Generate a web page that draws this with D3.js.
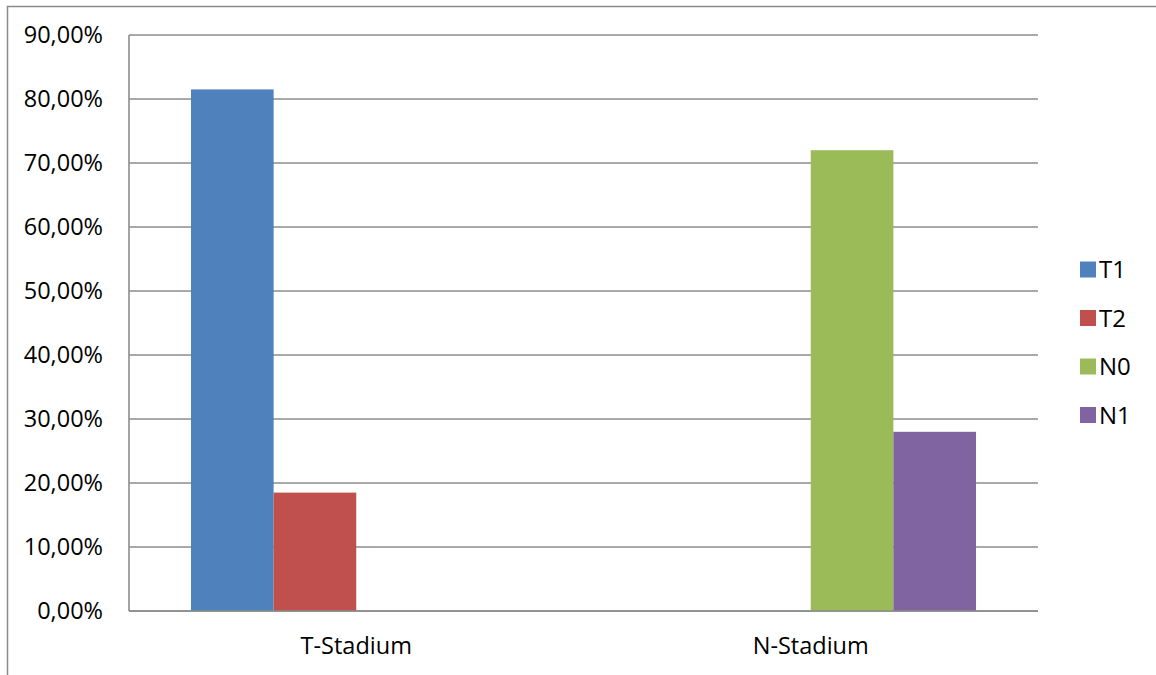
<!DOCTYPE html>
<html>
<head>
<meta charset="utf-8">
<script src="https://cdn.jsdelivr.net/npm/d3@7"></script>
<style>
  html, body { margin: 0; padding: 0; background: #fff; }
  svg text { font-family: "Open Sans", "Noto Sans", sans-serif; fill: #000; }
</style>
</head>
<body>
<svg id="chart" width="1156" height="675"></svg>
<script>
// Share of patients per stage group
const categories = ["T-Stadium", "N-Stadium"];
const seriesNames = ["T1", "T2", "N0", "N1"];
const seriesT1 = [81.5, null];
const seriesT2 = [18.5, null];
const seriesN0 = [null, 72.0];
const seriesN1 = [null, 28.0];
const yTicks = [0, 10, 20, 30, 40, 50, 60, 70, 80, 90];
const colors = ["#4F81BD", "#C0504D", "#9BBB59", "#8064A2"];

const seriesValues = [seriesT1, seriesT2, seriesN0, seriesN1];
const rows = categories.map((c, i) => ({
  category: c,
  values: seriesNames.map((s, j) => ({ series: s, value: seriesValues[j][i], color: colors[j] }))
}));

const svg = d3.select("#chart");
const plot = { left: 129, right: 1038, top: 35, bottom: 611 };
const labelSize = 23.5;

// Outer chart frame (top and left edges)
svg.append("path")
  .attr("d", `M7.5,${675} V6.5 H1156`)
  .attr("fill", "none")
  .attr("stroke", "#8a8a8a")
  .attr("stroke-width", 1.5);

const x0 = d3.scaleBand().domain(categories).range([plot.left, plot.right]).padding(0);
const x1 = d3.scaleBand().domain(seriesNames).range([0, x0.bandwidth()])
  .paddingInner(0).paddingOuter(0.75);
const y = d3.scaleLinear().domain([0, 90]).range([plot.bottom, plot.top]);

const fmt = v => d3.format(".2f")(v).replace(".", ",") + "%";

// Horizontal gridlines
svg.append("g")
  .selectAll("line")
  .data(yTicks)
  .join("line")
  .attr("x1", plot.left)
  .attr("x2", plot.right)
  .attr("y1", d => y(d))
  .attr("y2", d => y(d))
  .attr("stroke", "#8c8c8c")
  .attr("stroke-width", 1.6);

// Value axis labels
const yAxis = d3.axisLeft(y).tickValues(yTicks).tickFormat(fmt).tickSize(0).tickPadding(26);
const yG = svg.append("g").attr("transform", `translate(${plot.left},0)`).call(yAxis);
yG.select(".domain").remove();
yG.selectAll("text").attr("font-size", labelSize).attr("fill", "#000")
  .style("font-family", '"Open Sans", sans-serif');

// Bars
const groups = svg.append("g").selectAll("g")
  .data(rows)
  .join("g")
  .attr("transform", d => `translate(${x0(d.category)},0)`);

groups.selectAll("rect")
  .data(d => d.values.filter(v => v.value != null))
  .join("rect")
  .attr("x", d => x1(d.series))
  .attr("width", x1.bandwidth())
  .attr("y", d => y(d.value))
  .attr("height", d => y(0) - y(d.value))
  .attr("fill", d => d.color);

// Vertical axis line and baseline
svg.append("line")
  .attr("x1", plot.left).attr("x2", plot.left)
  .attr("y1", plot.top).attr("y2", plot.bottom)
  .attr("stroke", "#8c8c8c").attr("stroke-width", 1.6);
svg.append("line")
  .attr("x1", plot.left).attr("x2", plot.right)
  .attr("y1", y(0)).attr("y2", y(0))
  .attr("stroke", "#8c8c8c").attr("stroke-width", 1.6);

// Category axis labels
const xAxis = d3.axisBottom(x0).tickSize(0).tickPadding(26);
const xG = svg.append("g").attr("transform", `translate(0,${plot.bottom})`).call(xAxis);
xG.select(".domain").remove();
xG.selectAll("text").attr("font-size", labelSize).attr("fill", "#000")
  .style("font-family", '"Open Sans", sans-serif');

// Legend
const legend = svg.append("g").attr("transform", "translate(1080,0)");
const legendY = d3.scalePoint().domain(seriesNames).range([269.5, 415]);
const items = legend.selectAll("g")
  .data(seriesNames)
  .join("g")
  .attr("transform", d => `translate(0,${legendY(d)})`);
items.append("rect")
  .attr("x", 0).attr("y", -8)
  .attr("width", 16).attr("height", 16)
  .attr("fill", (d, i) => colors[i]);
items.append("text")
  .attr("x", 19)
  .attr("dy", "0.36em")
  .attr("font-size", 24)
  .text(d => d);
</script>
</body>
</html>
